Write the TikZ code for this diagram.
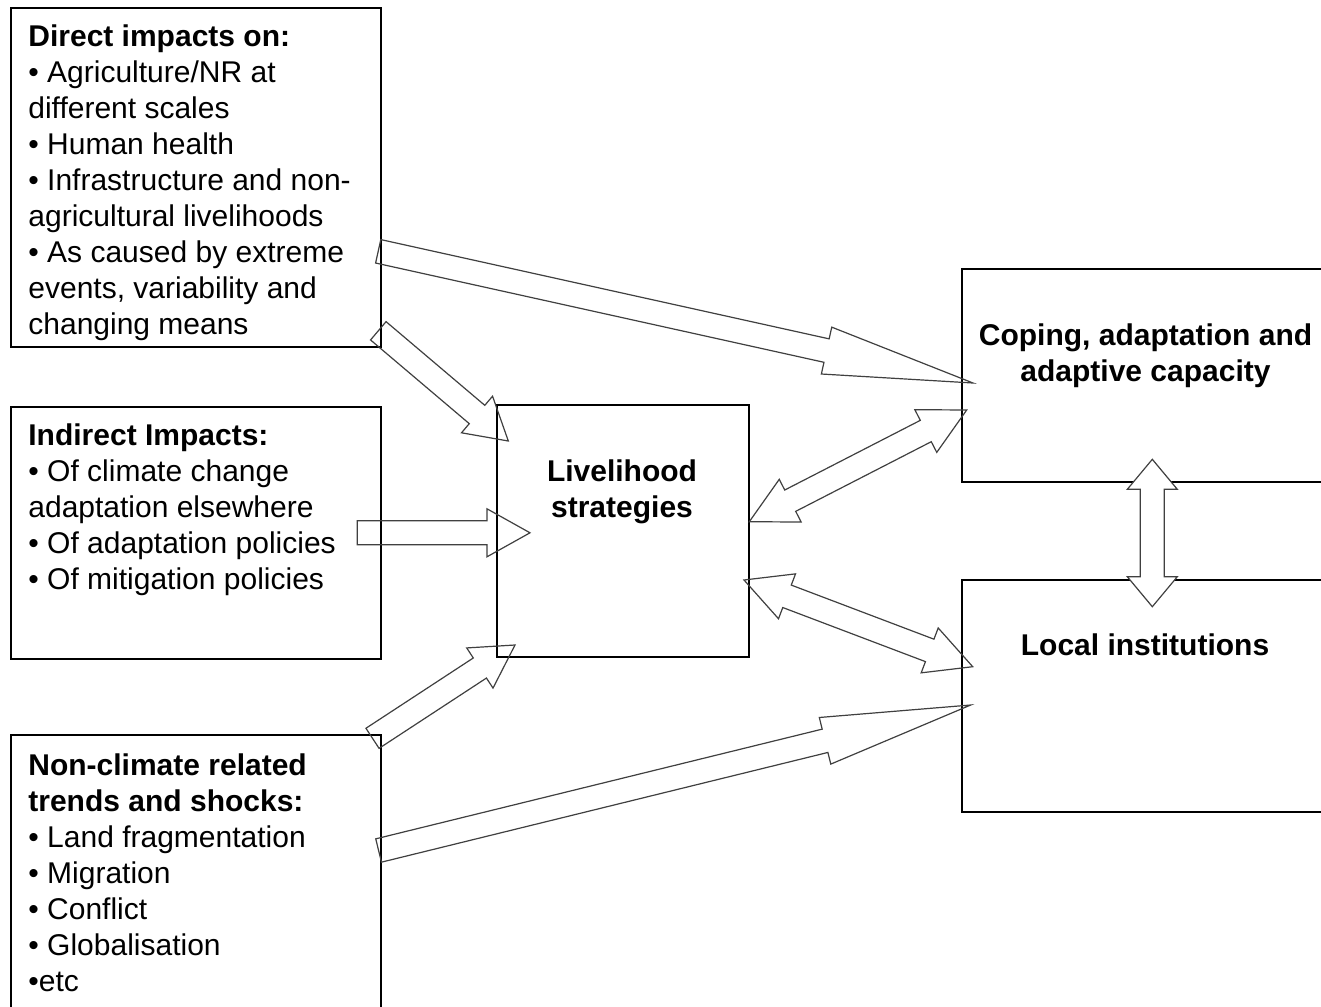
\documentclass[tikz,border=0pt]{standalone}
\usepackage{fontspec}
\setmainfont{Liberation Sans}
\usetikzlibrary{calc,fit}
\tikzset{
  box/.style={draw=black, line width=0.75pt, inner sep=0pt},
  txt/.style={anchor=north west, align=left, inner sep=0pt, font=\fontsize{15}{18}\selectfont},
  ctxt/.style={anchor=north, align=center, inner sep=0pt, font=\fontsize{15}{18}\selectfont\bfseries},
  barrow/.style={draw=black!75, line width=0.6pt, line join=miter},
}
% single block arrow: [opt]{tail}{tip}{shaft half}{head half}{head length}
\newcommand{\singlearrow}[6][]{%
  \coordinate (hbase) at ($(#3)!#6!(#2)$);
  \draw[barrow,#1] ($(#2)!#4!90:(#3)$) -- ($(hbase)!#4!90:(#3)$) -- ($(hbase)!#5!90:(#3)$) -- (#3)
    -- ($(hbase)!#5!-90:(#3)$) -- ($(hbase)!#4!-90:(#3)$) -- ($(#2)!#4!-90:(#3)$) -- cycle;}
% double block arrow: [opt]{end A}{end B}{shaft half}{head half}{head length}
\newcommand{\doublearrow}[6][]{%
  \coordinate (ha) at ($(#2)!#6!(#3)$);
  \coordinate (hb) at ($(#3)!#6!(#2)$);
  \draw[barrow,#1] (#2) -- ($(ha)!#5!90:(#3)$) -- ($(ha)!#4!90:(#3)$) -- ($(hb)!#4!90:(#3)$)
    -- ($(hb)!#5!90:(#3)$) -- (#3) -- ($(hb)!#5!-90:(#3)$) -- ($(hb)!#4!-90:(#3)$)
    -- ($(ha)!#4!-90:(#3)$) -- ($(ha)!#5!-90:(#3)$) -- cycle;}
\begin{document}
\begin{tikzpicture}[x=0.5pt,y=-0.5pt]
\useasboundingbox (0,0) rectangle (1321,1006);
\clip (0,0) rectangle (1321,1006);
\fill[white] (0,0) rectangle (1321,1006);
% boxes
\node[box, fit={(11,8) (381,347)}] (direct) {};
\node[box, fit={(11,407) (381,659)}] (indirect) {};
\node[box, fit={(11,735) (381,1040)}] (nonclim) {};
\node[box, fit={(497,405) (749,657)}] (liveli) {};
\node[box, fit={(962,269) (1345,482)}] (coping) {};
\node[box, fit={(962,580) (1345,812)}] (local) {};
% texts
\node[txt] (tdirect) at (28,20.8) {\textbf{Direct impacts on:}\strut\\
• Agriculture/NR at\\
different scales\\
• Human health\\
• Infrastructure and non-\\
agricultural livelihoods\\
• As caused by extreme\\
events, variability and\\
changing means};
\node[txt] (tindirect) at (28,419.8) {\textbf{Indirect Impacts:}\strut\\
• Of climate change\\
adaptation elsewhere\\
• Of adaptation policies\\
• Of mitigation policies};
\node[txt] (tnonclim) at (28,749.8) {\textbf{Non-climate related}\strut\\
\textbf{trends and shocks:}\\
• Land fragmentation\\
• Migration\\
• Conflict\\
• Globalisation\\
•etc};
\node[ctxt] (tliveli) at (622,455.8) {Livelihood\strut\\strategies};
\node[ctxt] (tcoping) at (1145.5,319.8) {Coping, adaptation and\strut\\adaptive capacity};
\node[ctxt] (tlocal) at (1145,629.8) {Local institutions\strut};
% arrow end points
\coordinate (a1t) at (378.2,251.3);  \coordinate (a1h) at (973,383);
\coordinate (a2t) at (378.3,330.8);  \coordinate (a2h) at (508.3,441);
\coordinate (a3t) at (357.3,532.8);  \coordinate (a3h) at (530,532.8);
\coordinate (a7t) at (372.5,738.3);  \coordinate (a7h) at (515,645);
\coordinate (a8t) at (378.6,850.5);  \coordinate (a8h) at (970.7,705);
\coordinate (a4a) at (749.3,521.7);  \coordinate (a4b) at (966.7,410);
\coordinate (a5a) at (744,580);      \coordinate (a5b) at (972.7,666.7);
\coordinate (a6a) at (1152.3,459.3); \coordinate (a6b) at (1152.3,606.7);
% arrows
\singlearrow{a1t}{a1h}{6pt}{12pt}{75pt}
\singlearrow{a2t}{a2h}{6pt}{12pt}{20.5pt}
\singlearrow{a3t}{a3h}{6pt}{12pt}{21.5pt}
\singlearrow{a7t}{a7h}{6pt}{12pt}{21pt}
\singlearrow{a8t}{a8h}{6pt}{12pt}{75pt}
\doublearrow{a4a}{a4b}{6pt}{12pt}{23pt}
\doublearrow{a5a}{a5b}{6pt}{12pt}{23pt}
\doublearrow[fill=white]{a6a}{a6b}{6pt}{12.5pt}{15pt}
\end{tikzpicture}
\end{document}
